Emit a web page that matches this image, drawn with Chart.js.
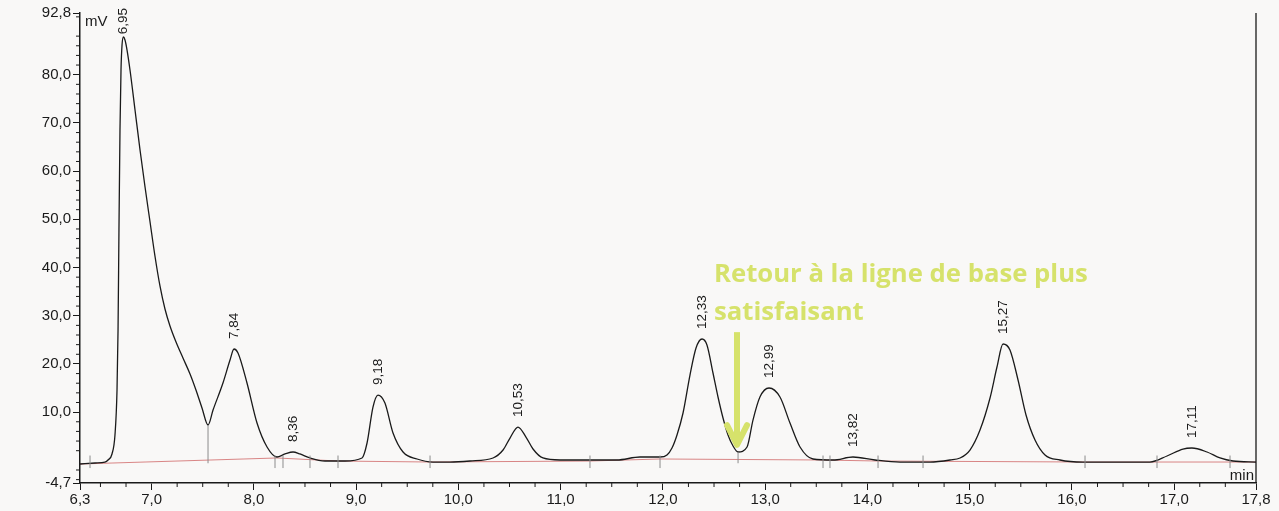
<!DOCTYPE html>
<html>
<head>
<meta charset="utf-8">
<script src="https://cdn.jsdelivr.net/npm/chart.js@4"></script>
<style>
  html, body { margin: 0; padding: 0; background: #f8f7f6; }
  #wrap { width: 1279px; height: 511px; }
</style>
</head>
<body>
<div id="wrap"><canvas id="chromChart" width="1279" height="511"></canvas></div>
<script>
// signal (time in min, signal in mV)
const times = [
  6.300, 6.447, 6.544, 6.574, 6.613, 6.642, 6.662, 6.672, 6.681, 6.691,
  6.701, 6.711, 6.725, 6.740, 6.760, 6.789, 6.838, 6.887, 6.936, 6.985,
  7.033, 7.082, 7.131, 7.180, 7.239, 7.307, 7.376, 7.434, 7.493, 7.552,
  7.601, 7.698, 7.767, 7.806, 7.845, 7.933, 8.031, 8.129, 8.226, 8.305,
  8.383, 8.451, 8.549, 8.696, 8.891, 9.058, 9.107, 9.165, 9.214, 9.282,
  9.361, 9.459, 9.596, 9.752, 9.918, 10.114, 10.339, 10.437, 10.505, 10.583,
  10.661, 10.730, 10.827, 10.994, 11.219, 11.551, 11.776, 11.972, 12.040, 12.089,
  12.138, 12.197, 12.265, 12.324, 12.383, 12.431, 12.490, 12.539, 12.588, 12.637,
  12.686, 12.735, 12.823, 12.881, 12.949, 13.038, 13.145, 13.243, 13.341, 13.468,
  13.664, 13.859, 14.074, 14.319, 14.612, 14.808, 14.906, 15.003, 15.101, 15.199,
  15.267, 15.326, 15.394, 15.473, 15.551, 15.639, 15.737, 15.883, 16.108, 16.441,
  16.763, 16.930, 17.086, 17.173, 17.321, 17.448, 17.575, 17.800
];
const signal = [
  -0.76, -0.55, -0.35, 0.07, 1.32, 5.26, 14.59, 27.04, 47.78, 68.53,
  80.98, 86.16, 87.82, 87.20, 85.12, 80.98, 72.68, 64.38, 56.70, 49.44,
  42.39, 36.17, 31.40, 27.87, 24.55, 21.23, 17.91, 14.59, 10.86, 7.33,
  10.44, 16.04, 20.81, 23.10, 22.27, 16.04, 7.74, 2.77, 0.69, 1.32,
  1.73, 1.32, 0.49, -0.14, -0.14, 0.49, 3.60, 11.06, 13.55, 11.89,
  5.67, 1.73, 0.28, -0.35, -0.35, -0.14, 0.49, 2.14, 4.63, 6.91,
  4.84, 2.35, 0.49, 0.07, 0.07, 0.07, 0.69, 0.69, 1.11, 2.56,
  5.26, 9.82, 17.70, 23.30, 25.17, 23.93, 18.12, 13.14, 8.78, 5.26,
  2.97, 1.73, 2.77, 8.36, 13.14, 15.01, 13.14, 7.74, 2.77, 0.28,
  0.07, 0.69, 0.07, -0.35, -0.35, 0.07, 0.49, 2.14, 6.29, 12.93,
  19.36, 24.13, 22.89, 16.67, 9.41, 4.22, 1.11, 0.07, -0.35, -0.35,
  -0.35, 0.90, 2.35, 2.56, 1.73, 0.49, -0.14, -0.35
];

// integration baseline (red)
const baseTimes = [6.300, 8.226, 8.823, 9.723, 11.287, 11.972, 13.566, 14.104, 16.128, 17.800];
const baseValues = [-0.76, 0.49, -0.14, -0.35, -0.14, 0.28, 0.07, -0.14, -0.35, -0.35];

// peak annotations
const peakLabels = ['6,95', '7,84', '8,36', '9,18', '10,53', '12,33', '12,99', '13,82', '15,27', '17,11'];
const peakTimes = [6.725, 7.806, 8.383, 9.214, 10.583, 12.383, 13.038, 13.859, 15.326, 17.173];
const peakHeights = [87.82, 23.10, 1.73, 13.55, 6.91, 25.17, 15.01, 0.69, 24.13, 2.56];

// integration marks
const boundaryTimes = [6.398, 8.207, 8.285, 8.549, 8.823, 9.723, 11.287, 11.972, 13.566, 13.634, 14.104, 14.544, 16.128, 16.832, 17.546];
const dropTimes = [7.552, 12.735];
const dropTops = [7.33, 1.73];

const xTickValues = [6.3, 7, 8, 9, 10, 11, 12, 13, 14, 15, 16, 17, 17.8];
const yTickValues = [-4.7, 10, 20, 30, 40, 50, 60, 70, 80, 92.8];

const noteLines = ['Retour à la ligne de base plus', 'satisfaisant'];

const FONT = '"Liberation Sans", Arial, sans-serif';
const INK = '#1a1a1a';

function fmt(v) { return Number(v).toFixed(1).replace('.', ','); }

function seg(ctx, x1, y1, x2, y2) {
  ctx.beginPath();
  ctx.moveTo(x1, y1);
  ctx.lineTo(x2, y2);
  ctx.stroke();
}

const decor = {
  id: 'decor',
  beforeDraw: function(chart) {
    const ctx = chart.ctx;
    ctx.save();
    ctx.fillStyle = '#f9f8f7';
    ctx.fillRect(0, 0, chart.width, chart.height);
    ctx.restore();
  },
  afterDraw: function(chart) {
    const ctx = chart.ctx;
    const a = chart.chartArea;
    const x = chart.scales.x;
    const y = chart.scales.y;
    ctx.save();

    // right frame
    ctx.strokeStyle = INK;
    ctx.lineWidth = 1.3;
    seg(ctx, a.right, a.top, a.right, a.bottom);

    // minor ticks
    ctx.lineWidth = 1;
    for (let i = 1; i < 46; i++) {
      const v = 6.25 + i * 0.25;
      if (v >= 17.8) break;
      if (Math.abs(v - Math.round(v)) < 1e-6) continue;
      const px = x.getPixelForValue(v);
      seg(ctx, px, a.bottom, px, a.bottom + 4);
    }
    for (let v = -4; v <= 92; v += 2) {
      if (v % 10 === 0) continue;
      const py = y.getPixelForValue(v);
      seg(ctx, a.left - 4, py, a.left, py);
    }

    // integration marks
    ctx.strokeStyle = '#8c8c8c';
    boundaryTimes.forEach(function(t) {
      const px = x.getPixelForValue(t);
      seg(ctx, px, y.getPixelForValue(1.0), px, y.getPixelForValue(-1.6));
    });
    dropTimes.forEach(function(t, i) {
      const px = x.getPixelForValue(t);
      seg(ctx, px, y.getPixelForValue(dropTops[i]), px, y.getPixelForValue(-0.6));
    });

    // peak labels, rotated
    ctx.fillStyle = INK;
    ctx.font = '13.5px ' + FONT;
    peakLabels.forEach(function(lab, i) {
      const px = x.getPixelForValue(peakTimes[i]);
      const w = ctx.measureText(lab).width;
      let py = y.getPixelForValue(peakHeights[i]) - 10;
      if (py - w < 8) py = 8 + w;
      ctx.save();
      ctx.translate(px, py);
      ctx.rotate(-Math.PI / 2);
      ctx.textAlign = 'left';
      ctx.textBaseline = 'middle';
      ctx.fillText(lab, 0, 0);
      ctx.restore();
    });

    // units
    ctx.font = '15px ' + FONT;
    ctx.textAlign = 'left';
    ctx.textBaseline = 'top';
    ctx.fillText('mV', a.left + 5, a.top + 1);
    ctx.textAlign = 'right';
    ctx.textBaseline = 'alphabetic';
    ctx.fillText('min', a.right - 2, a.bottom - 3);

    // note + arrow
    const green = '#d6e26b';
    ctx.fillStyle = green;
    const nx = x.getPixelForValue(12.5);
    const wantW = x.getPixelForValue(16.16) - nx;
    ctx.font = 'bold 24px "Open Sans", Lato, sans-serif';
    const size = Math.round(24 * wantW / ctx.measureText(noteLines[0]).width * 10) / 10;
    ctx.font = 'bold ' + size + 'px "Open Sans", Lato, sans-serif';
    ctx.textAlign = 'left';
    ctx.fillText(noteLines[0], nx, y.getPixelForValue(37.0));
    ctx.fillText(noteLines[1], nx, y.getPixelForValue(29.1));

    const ax = x.getPixelForValue(12.725);
    const y0 = y.getPixelForValue(26.6);
    const yHead = y.getPixelForValue(7.3);
    const yTip = y.getPixelForValue(2.8);
    ctx.strokeStyle = green;
    ctx.lineWidth = 6;
    seg(ctx, ax, y0, ax, yTip - 4);
    ctx.lineCap = 'round';
    ctx.lineJoin = 'round';
    ctx.beginPath();
    ctx.moveTo(ax - 10, yHead);
    ctx.lineTo(ax, yTip - 2);
    ctx.lineTo(ax + 10, yHead);
    ctx.stroke();

    ctx.restore();
  }
};

new Chart(document.getElementById('chromChart'), {
  type: 'line',
  data: {
    datasets: [
      {
        label: 'Signal',
        data: times.map(function(t, i) { return { x: t, y: signal[i] }; }),
        borderColor: '#1a1a1a',
        borderWidth: 1.3,
        pointRadius: 0,
        cubicInterpolationMode: 'monotone',
        fill: false
      },
      {
        label: 'Ligne de base',
        data: baseTimes.map(function(t, i) { return { x: t, y: baseValues[i] }; }),
        borderColor: 'rgba(205,95,95,0.75)',
        borderWidth: 1,
        pointRadius: 0,
        tension: 0,
        fill: false
      }
    ]
  },
  options: {
    responsive: false,
    animation: false,
    layout: { padding: { top: 13, right: 23, left: 0, bottom: 0 } },
    plugins: {
      legend: { display: false },
      tooltip: { enabled: false }
    },
    scales: {
      x: {
        type: 'linear',
        min: 6.3,
        max: 17.8,
        afterBuildTicks: function(s) { s.ticks = xTickValues.map(function(v) { return { value: v }; }); },
        afterFit: function(s) { s.height = 28; },
        ticks: {
          autoSkip: false,
          maxRotation: 0,
          padding: 1,
          color: INK,
          font: { family: FONT, size: 15 },
          callback: function(v) { return fmt(v); }
        },
        grid: { drawOnChartArea: false, tickLength: 7, color: INK },
        border: { color: INK, width: 1.5 }
      },
      y: {
        min: -4.7,
        max: 92.8,
        afterBuildTicks: function(s) { s.ticks = yTickValues.map(function(v) { return { value: v }; }); },
        afterFit: function(s) { s.width = 80; },
        ticks: {
          autoSkip: false,
          padding: 2,
          color: INK,
          font: { family: FONT, size: 15 },
          callback: function(v) { return fmt(v); }
        },
        grid: { drawOnChartArea: false, tickLength: 7, color: INK },
        border: { color: INK, width: 1.5 }
      }
    }
  },
  plugins: [decor]
});
</script>
</body>
</html>
